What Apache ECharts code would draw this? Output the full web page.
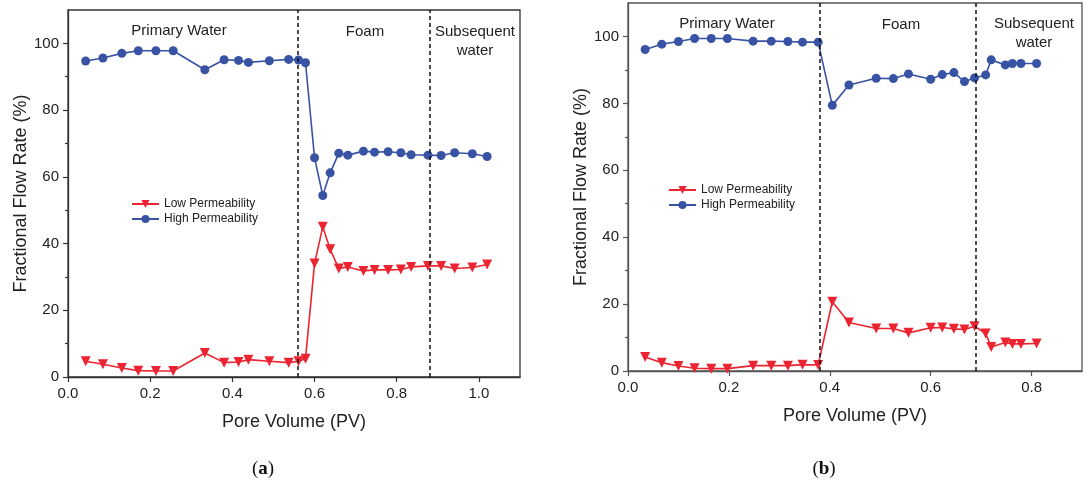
<!DOCTYPE html>
<html>
<head>
<meta charset="utf-8">
<script src="https://cdn.jsdelivr.net/npm/echarts@6/dist/echarts.min.js"></script>
<style>
html,body{margin:0;padding:0;background:#fff;}
#chart{width:1091px;height:487px;}
</style>
</head>
<body>
<div id="chart"></div>
<script>
// ---- data ----
const seriesNames = ['Low Permeability', 'High Permeability'];
// panel (a)
const pvA = [0.043,0.085,0.131,0.171,0.214,0.256,0.333,0.380,0.415,0.439,0.490,0.537,0.561,0.578,0.600,0.620,0.638,0.659,0.681,0.719,0.746,0.779,0.810,0.835,0.876,0.908,0.941,0.984,1.020];
const highA = [94.7,95.6,97.0,97.8,97.8,97.8,92.1,95.1,94.9,94.3,94.8,95.2,95.0,94.2,65.7,54.4,61.2,67.1,66.5,67.7,67.4,67.5,67.2,66.6,66.5,66.4,67.2,66.9,66.1];
const lowA  = [4.7,3.8,2.7,1.9,1.8,1.8,7.2,4.3,4.5,5.2,4.7,4.3,4.7,5.5,34.0,45.0,38.3,32.5,33.0,31.8,32.1,32.1,32.2,33.0,33.3,33.3,32.5,32.8,33.7];
const dividersA = [0.563, 0.876];
// panel (b)
const pvB = [0.034,0.067,0.100,0.132,0.165,0.197,0.248,0.284,0.317,0.346,0.377,0.405,0.438,0.492,0.526,0.556,0.600,0.623,0.646,0.667,0.687,0.709,0.720,0.748,0.762,0.779,0.810];
const highB = [96.1,97.7,98.5,99.4,99.4,99.4,98.6,98.6,98.5,98.3,98.3,79.4,85.5,87.5,87.4,88.8,87.2,88.6,89.2,86.5,87.6,88.5,93.0,91.5,91.9,91.9,91.9];
const lowB  = [4.2,2.5,1.5,0.8,0.7,0.7,1.6,1.6,1.6,1.9,1.8,20.7,14.5,12.7,12.7,11.4,12.9,13.0,12.6,12.4,13.4,11.2,7.2,8.5,8.1,8.1,8.2];
const dividersB = [0.377, 0.686];
// ticks
const xTicksA = [0, 0.2, 0.4, 0.6, 0.8, 1.0];
const xTicksB = [0, 0.2, 0.4, 0.6, 0.8];
const yTicks = [0, 20, 40, 60, 80, 100];
const yMinorTicks = [10, 30, 50, 70, 90];
const phaseLabels = ['Primary Water', 'Foam', 'Subsequent\nwater'];
const panelLabels = ['a', 'b'];
const xName = 'Pore Volume (PV)';
const yName = 'Fractional Flow Rate (%)';

// ---- styles ----
const RED = '#ec2330', BLUE = '#3853a4';
const FONT = 'Liberation Sans, Arial, sans-serif';
const zip = (xs, ys) => xs.map((x, i) => [x, ys[i]]);

const grids = [
  {left: 68, top: 10, width: 452, height: 367, border: '#333'},
  {left: 628, top: 3, width: 454, height: 368, border: '#555'}
];

function xAxisFor(i, max, ticks) {
  return {
    type: 'value', gridIndex: i, min: 0, max: max, interval: 0.2,
    name: xName, nameLocation: 'middle', nameGap: 36,
    nameTextStyle: {fontSize: 18, fontFamily: FONT, color: '#222'},
    axisLine: {show: true, lineStyle: {color: grids[i].border, width: 1.3}},
    axisTick: {show: true, inside: false, length: 5, customValues: ticks, lineStyle: {color: grids[i].border, width: 1.2}},
    axisLabel: {show: true, margin: 9, fontSize: 15, fontFamily: FONT, color: '#222', customValues: ticks,
      formatter: v => v.toFixed(1)},
    splitLine: {show: false}
  };
}
function yAxisFor(i) {
  return {
    type: 'value', gridIndex: i, min: 0, max: 110, interval: 10,
    name: yName, nameLocation: 'middle', nameGap: 38,
    nameTextStyle: {fontSize: 18, fontFamily: FONT, color: '#222'},
    axisLine: {show: true, lineStyle: {color: grids[i].border, width: 1.3}},
    axisTick: {show: true, inside: false, length: 5, customValues: yTicks, lineStyle: {color: grids[i].border, width: 1.2}},
    axisLabel: {show: true, margin: 9, fontSize: 15, fontFamily: FONT, color: '#222', customValues: yTicks},
    splitLine: {show: false}
  };
}
function yMinorFor(i) {
  return {
    type: 'value', gridIndex: i, min: 0, max: 110, interval: 10, position: 'left',
    axisLine: {show: false},
    axisTick: {show: true, inside: false, length: 3, customValues: yMinorTicks, lineStyle: {color: grids[i].border, width: 1.2}},
    axisLabel: {show: false},
    splitLine: {show: false}
  };
}
function lowSeries(i, data, dividers) {
  return {
    name: seriesNames[0], type: 'line', xAxisIndex: i, yAxisIndex: 2 * i, data: data,
    symbol: 'triangle', symbolRotate: 180, symbolSize: 10,
    lineStyle: {color: RED, width: 1.6}, itemStyle: {color: RED},
    z: 3,
    markLine: {
      silent: true, symbol: ['none', 'none'], label: {show: false},
      lineStyle: {type: [4, 3], color: '#111', width: 1.5},
      data: dividers.map(v => ({xAxis: v}))
    }
  };
}
function highSeries(i, data) {
  return {
    name: seriesNames[1], type: 'line', xAxisIndex: i, yAxisIndex: 2 * i, data: data,
    symbol: 'circle', symbolSize: 9,
    lineStyle: {color: BLUE, width: 1.6}, itemStyle: {color: BLUE},
    z: 3
  };
}
function legendFor(left, top) {
  return {
    left: left, top: top, orient: 'vertical', itemWidth: 27, itemHeight: 10, itemGap: 3,
    data: seriesNames,
    textStyle: {fontSize: 12, fontFamily: FONT, color: '#222', lineHeight: 12},
    selectedMode: false
  };
}
function txt(x, y, text, size, lh) {
  return {type: 'text', x: x, y: y, silent: true,
    style: {text: text, fontSize: size, fontFamily: FONT, fill: '#222', align: 'center', verticalAlign: 'middle', lineHeight: lh || size + 4}};
}
function panelLabel(x, y, letter) {
  return {type: 'text', x: x, y: y, silent: true,
    style: {text: '{p|(}{b|' + letter + '}{p|)}', align: 'center', verticalAlign: 'middle',
      rich: {p: {fontSize: 19, fontFamily: 'Liberation Serif, DejaVu Serif, serif', fill: '#111'},
             b: {fontSize: 19, fontWeight: 'bold', fontFamily: 'Liberation Serif, DejaVu Serif, serif', fill: '#111'}}}};
}

const chart = echarts.init(document.getElementById('chart'), null, {renderer: 'canvas'});
chart.setOption({
  animation: false,
  backgroundColor: '#fff',
  grid: grids.map(g => ({left: g.left, top: g.top, width: g.width, height: g.height, show: true, borderColor: g.border, borderWidth: 1.3, containLabel: false})),
  xAxis: [xAxisFor(0, 1.1, xTicksA), xAxisFor(1, 0.9, xTicksB)],
  yAxis: [yAxisFor(0), yMinorFor(0), yAxisFor(1), yMinorFor(1)],
  legend: [legendFor(126, 193), legendFor(663, 179)],
  series: [
    lowSeries(0, zip(pvA, lowA), dividersA),
    highSeries(0, zip(pvA, highA)),
    lowSeries(1, zip(pvB, lowB), dividersB),
    highSeries(1, zip(pvB, highB))
  ],
  graphic: [
    txt(179, 31, phaseLabels[0], 15),
    txt(365, 32, phaseLabels[1], 15),
    txt(475, 41, phaseLabels[2], 15, 19),
    txt(727, 24, phaseLabels[0], 15),
    txt(901, 25, phaseLabels[1], 15),
    txt(1034, 33, phaseLabels[2], 15, 19),
    panelLabel(263, 469, panelLabels[0]),
    panelLabel(824, 469, panelLabels[1])
  ]
});
</script>
</body>
</html>
